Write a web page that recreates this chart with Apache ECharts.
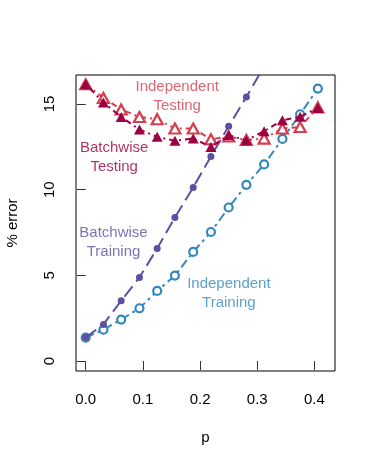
<!DOCTYPE html>
<html lang="en">
  <head>
    <meta charset="UTF-8" />
    <title>% error vs p</title>
    <script src="https://cdn.jsdelivr.net/npm/echarts@6/dist/echarts.min.js"></script>
    <style>
      html, body { margin: 0; padding: 0; background: #fff; }
      #chart { width: 374px; height: 467px; }
    </style>
  </head>
  <body>
    <div id="chart"></div>
    <script type="text/javascript">
      // 数据
      const pValues = [0, 0.031, 0.062, 0.094, 0.125, 0.156, 0.188, 0.219, 0.25, 0.281, 0.312, 0.344, 0.375, 0.406];
      const batchTrain = [1.37, 2.14, 3.52, 4.88, 6.57, 8.38, 10.13, 11.94, 13.7, 15.41, 17.2, 19.0, 20.8, 22.6];
      const indepTrain = [1.37, 1.83, 2.42, 3.08, 4.09, 4.99, 6.37, 7.53, 8.96, 10.28, 11.47, 12.96, 14.4, 15.9];
      const batchTest = [16.15, 15.09, 14.24, 13.51, 13.08, 12.85, 12.99, 12.49, 13.18, 12.88, 13.41, 14.05, 14.25, 14.77];
      const indepTest = [16.15, 15.35, 14.68, 14.24, 14.11, 13.57, 13.57, 12.94, 13.1, 12.9, 12.98, 13.57, 13.66, 14.8];
      const xTicks = [0, 0.1, 0.2, 0.3, 0.4];
      const yTicks = [0, 5, 10, 15];

      const pair = (ys) => ys.map((y, i) => [pValues[i], y]);

      const PURPLE = "#5E4FA2",
        BLUE = "#3288BD",
        DARKRED = "#9E0142",
        RED = "#D53E4F";
      const font = "Liberation Sans, Arial, Helvetica, sans-serif";

      const chart = echarts.init(document.getElementById("chart"));

      // 注释文字 (数据坐标)
      const note = (p, e, text, color) => ({
        value: [p, e],
        label: { formatter: text, color: color },
      });

      const options = {
        animation: false,
        textStyle: { fontFamily: font },
        grid: {
          left: 76,
          right: 39,
          top: 75,
          bottom: 96,
          containLabel: false,
          outerBoundsMode: "none",
          show: true,
          borderColor: "#000",
          borderWidth: 1,
          backgroundColor: "transparent",
        },
        xAxis: {
          type: "value",
          min: -0.017,
          max: 0.436,
          name: "p",
          nameLocation: "middle",
          nameGap: 59,
          nameTextStyle: { fontSize: 15, color: "#000", fontFamily: font },
          axisLine: { show: false },
          splitLine: { show: false },
          axisTick: {
            show: true,
            length: 9,
            customValues: xTicks,
            lineStyle: { color: "#333", width: 1 },
          },
          axisLabel: {
            customValues: xTicks,
            margin: 21,
            fontSize: 15,
            color: "#000",
            fontFamily: font,
            formatter: (v) => v.toFixed(1),
          },
        },
        yAxis: {
          type: "value",
          min: -0.58,
          max: 16.69,
          name: "% error",
          nameLocation: "middle",
          nameRotate: 90,
          nameGap: 56,
          nameTextStyle: { fontSize: 15, color: "#000", fontFamily: font },
          axisLine: { show: false },
          splitLine: { show: false },
          axisTick: {
            show: true,
            length: 9,
            customValues: yTicks,
            lineStyle: { color: "#333", width: 1 },
          },
          axisLabel: {
            customValues: yTicks,
            rotate: 90,
            margin: 19,
            fontSize: 15,
            color: "#000",
            fontFamily: font,
          },
        },
        series: [
          // Independent Training
          {
            type: "line",
            data: pair(indepTrain),
            symbol: "circle",
            symbolSize: 8,
            showAllSymbol: true,
            lineStyle: { color: BLUE, width: 2, type: [9, 4, 3, 4] },
            itemStyle: { color: "#fff", borderColor: BLUE, borderWidth: 2.2 },
            z: 2,
          },
          // Batchwise Training
          {
            type: "line",
            data: pair(batchTrain),
            symbol: "circle",
            symbolSize: 7,
            showAllSymbol: true,
            clip: true,
            lineStyle: { color: PURPLE, width: 2, type: [13, 6] },
            itemStyle: { color: PURPLE, borderWidth: 0 },
            z: 3,
          },
          // Independent Testing
          {
            type: "line",
            data: pair(indepTest),
            symbol: "triangle",
            symbolSize: [11, 10],
            showAllSymbol: true,
            lineStyle: { color: RED, width: 2, type: [6, 4, 2, 4] },
            itemStyle: { color: "#fff", borderColor: RED, borderWidth: 2.2 },
            z: 4,
          },
          // Batchwise Testing
          {
            type: "line",
            data: pair(batchTest),
            symbol: "triangle",
            symbolSize: [11, 10],
            showAllSymbol: true,
            lineStyle: { color: DARKRED, width: 2, type: [2, 4, 6, 4] },
            itemStyle: { color: DARKRED, borderWidth: 0 },
            z: 5,
          },
          // 标注
          {
            type: "scatter",
            symbolSize: 1,
            itemStyle: { color: "transparent" },
            silent: true,
            z: 6,
            label: {
              show: true,
              position: "inside",
              fontSize: 15,
              lineHeight: 19,
              fontFamily: font,
              align: "center",
            },
            data: [
              note(0.16, 15.43, "Independent\nTesting", RED),
              note(0.0498, 11.9, "Batchwise\nTesting", DARKRED),
              note(0.0486, 6.93, "Batchwise\nTraining", PURPLE),
              note(0.2504, 3.93, "Independent\nTraining", BLUE),
            ],
          },
        ],
      };
      chart.setOption(options);
    </script>
  </body>
</html>
